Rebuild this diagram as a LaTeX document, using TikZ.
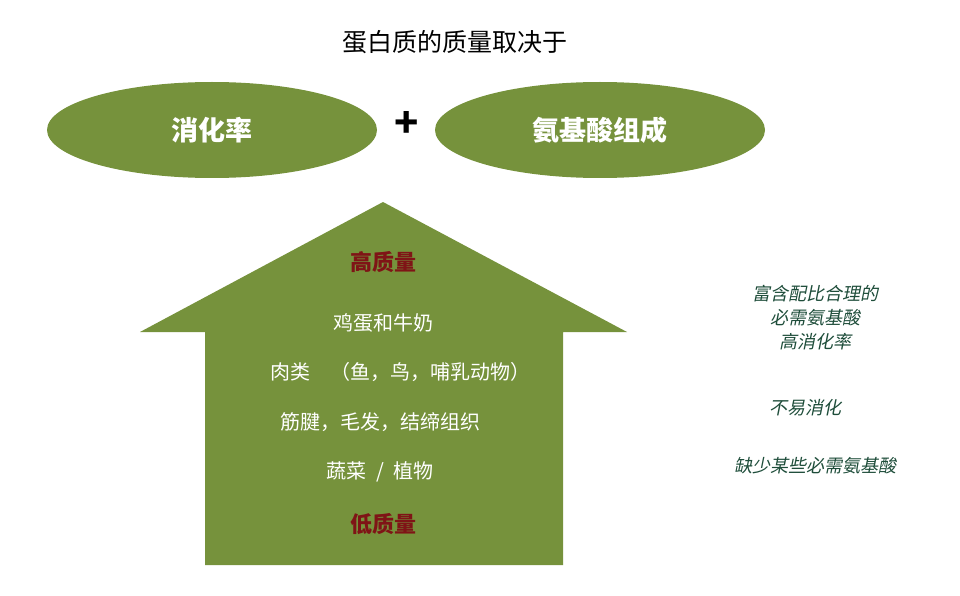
\documentclass[tikz,border=0pt]{standalone}
\usepackage{fontspec}
\setmainfont{Noto Sans CJK SC}
\newfontfamily\cjkslant[FakeSlant=0.2]{Noto Sans CJK SC}
\usetikzlibrary{shapes.geometric}
\definecolor{olive}{HTML}{76923C}
\definecolor{qred}{HTML}{7F1416}
\definecolor{ngreen}{HTML}{1E4D3A}
\begin{document}
\begin{tikzpicture}[x=1pt,y=-1pt,
  oval/.style={ellipse,fill=olive,draw=none,minimum width=330pt,minimum height=96pt,text=white,font=\fontsize{27}{30}\selectfont\bfseries},
  wt/.style={text=white,font=\fontsize{20}{24}\selectfont},
  qt/.style={text=qred,font=\fontsize{22}{26}\selectfont\bfseries},
  nt/.style={text=ngreen,align=center,font=\cjkslant\fontsize{18}{24}\selectfont}]
\useasboundingbox (0,0) rectangle (960,596);
\node (title) at (455,42) {\fontsize{25}{30}\selectfont 蛋白质的质量取决于};
\node[oval] (e1) at (212,130) {消化率};
\node (plus) at (407,125) {\fontsize{40}{40}\selectfont\bfseries +};
\node[oval] (e2) at (600,130) {氨基酸组成};
\fill[olive] (383,202) -- (627,332) -- (563,332) -- (563,565) -- (205,565) -- (205,332) -- (140,332) -- cycle;
\node[qt] (hq) at (383,262) {高质量};
\node[wt] (t1) at (383,323) {鸡蛋和牛奶};
\node[wt] (t2) at (400,372) {肉类\hspace{1em}（鱼，鸟，哺乳动物）};
\node[wt] (t3) at (380,422) {筋腱，毛发，结缔组织};
\node[wt] (t4) at (380,472) {蔬菜\hspace{0.5em}/\hspace{0.5em}植物};
\node[qt] (lq) at (383,524) {低质量};
\node[nt] (r1) at (815,318) {富含配比合理的\\必需氨基酸\\高消化率};
\node[nt] (r2) at (805,408) {不易消化};
\node[nt] (r3) at (815,466) {缺少某些必需氨基酸};
\end{tikzpicture}
\end{document}
